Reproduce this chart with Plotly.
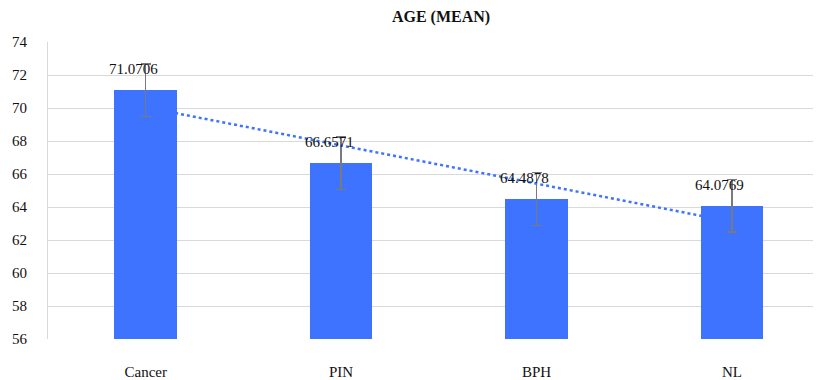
import numpy as np
import plotly.graph_objects as go

categories = ["Cancer", "PIN", "BPH", "NL"]
age_mean = [71.0706, 66.6571, 64.4878, 64.0769]
age_err = [1.6, 1.6, 1.6, 1.6]
label_text = ["71.0706", "66.6571", "64.4878", "64.0769"]
y_ticks = [56, 58, 60, 62, 64, 66, 68, 70, 72, 74]

BLUE = "#3d73ff"
FONT = "Liberation Serif"
BASE = 56

x_idx = np.arange(len(categories))
slope, intercept = np.polyfit(x_idx, age_mean, 1)
trend = slope * x_idx + intercept

fig = go.Figure()
fig.add_trace(go.Bar(
    x=x_idx, y=[v - BASE for v in age_mean], base=BASE, width=0.32,
    marker=dict(color=BLUE, line=dict(width=0)),
    error_y=dict(type="data", array=age_err, color="#7a7a7a", thickness=1.5, width=5),
    showlegend=False, hoverinfo="skip",
))
fig.add_trace(go.Scatter(
    x=x_idx, y=trend, mode="lines",
    line=dict(color=BLUE, width=2.5, dash="dot"),
    showlegend=False, hoverinfo="skip",
))

for i, (v, t) in enumerate(zip(age_mean, label_text)):
    fig.add_annotation(x=i, y=v, text=t, showarrow=False, xshift=-12, yshift=21,
                       font=dict(family=FONT, size=15, color="#111111"))

W, H = 813, 372
fig.update_layout(
    width=W, height=H,
    margin=dict(l=40, r=0, t=34, b=36),
    paper_bgcolor="white", plot_bgcolor="white",
    title=dict(text="<b>AGE (MEAN)</b>", x=433 / W, xanchor="center",
               y=1 - 8 / H, yanchor="middle",
               font=dict(family=FONT, size=16, color="#111111")),
    font=dict(family=FONT, size=15, color="#111111"),
    xaxis=dict(range=[-0.5, 3.456], tickvals=list(x_idx), ticktext=categories,
               showgrid=False, zeroline=False, showline=False,
               ticks="", ticklabelstandoff=22, tickfont=dict(size=15)),
    yaxis=dict(range=[56, 74], tickvals=y_ticks, showgrid=True,
               gridcolor="#d9d9d9", gridwidth=1, zeroline=False,
               showline=True, linecolor="#d9d9d9", linewidth=1,
               ticks="", ticklabelstandoff=17, tickfont=dict(size=15)),
    bargap=0,
)

fig.write_html("out.html")
